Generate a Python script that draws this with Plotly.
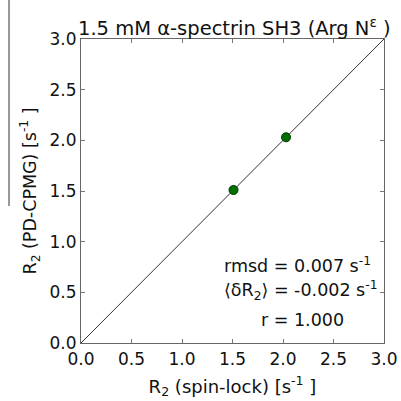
import plotly.graph_objects as go

r2_spinlock = [1.51, 2.03]
r2_pdcpmg = [1.51, 2.03]
diag = [0.0, 3.0]
tick_vals = [0.0, 0.5, 1.0, 1.5, 2.0, 2.5, 3.0]
tick_text = ["0.0", "0.5", "1.0", "1.5", "2.0", "2.5", "3.0"]
stats_lines = ["rmsd = 0.007 s<sup>-1</sup>",
               "⟨δR<sub>2</sub>⟩ = -0.002 s<sup>-1</sup>",
               "r = 1.000"]

font = "DejaVu Sans, Verdana, sans-serif"

fig = go.Figure()
fig.add_trace(go.Scatter(x=diag, y=diag, mode="lines",
                         line=dict(color="#333333", width=1), hoverinfo="skip"))
fig.add_trace(go.Scatter(x=r2_spinlock, y=r2_pdcpmg, mode="markers",
                         marker=dict(color="#007000", size=9,
                                     line=dict(color="#003300", width=1))))

axis_common = dict(range=[0, 3], tickvals=tick_vals, ticktext=tick_text,
                   ticks="inside", ticklen=4, tickcolor="#777777",
                   showline=True, linecolor="#666666", linewidth=1.2,
                   mirror="ticks", showgrid=False, zeroline=False,
                   automargin=False,
                   tickfont=dict(family=font, size=17, color="#111111"))

stat_y = [0.2566, 0.1743, 0.0757]
stat_x = [0.716, 0.726, 0.73]
annotations = [
    dict(text="1.5 mM α-spectrin SH3 (Arg N<sup>ε</sup> )",
         xref="paper", yref="paper", x=0.505, y=1.0, xanchor="center",
         yanchor="bottom", yshift=-3, showarrow=False,
         font=dict(family=font, size=19.5, color="#111111")),
]
for txt, xx, yy in zip(stats_lines, stat_x, stat_y):
    annotations.append(dict(text=txt, xref="paper", yref="paper", x=xx, y=yy,
                            xanchor="center", yanchor="middle", showarrow=False,
                            font=dict(family=font, size=17.5, color="#111111")))

fig.update_layout(
    width=401, height=401,
    margin=dict(l=81, r=17, t=39, b=58),
    paper_bgcolor="white", plot_bgcolor="white",
    showlegend=False,
    xaxis=dict(**axis_common,
               title=dict(text="R<sub>2</sub> (spin-lock) [s<sup>-1</sup> ]",
                          font=dict(family=font, size=18, color="#111111"),
                          standoff=12)),
    yaxis=dict(**axis_common,
               title=dict(text="R<sub>2</sub> (PD-CPMG) [s<sup>-1</sup> ]",
                          font=dict(family=font, size=17.5, color="#111111"),
                          standoff=8)),
    annotations=annotations,
    shapes=[dict(type="line", xref="paper", yref="paper",
                 x0=-0.2376, x1=-0.2376, y0=0.4507, y1=1.13,
                 line=dict(color="#333333", width=1))],
)

fig.write_html("out.html")
